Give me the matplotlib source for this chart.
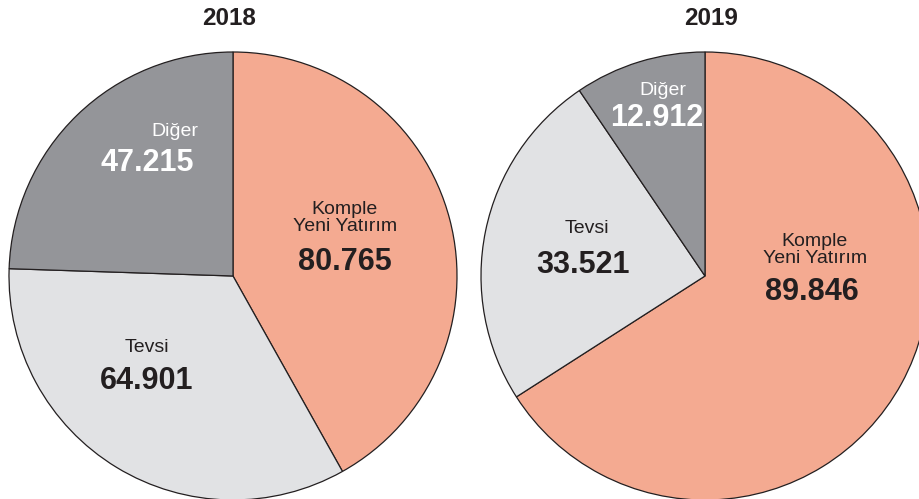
import matplotlib.pyplot as plt
from matplotlib import font_manager as fm

# avoid the "Narrow" cut of Liberation Sans being picked
regular_file = None
bold_file = None
for f in fm.fontManager.ttflist:
    if f.name == "Liberation Sans" and "Narrow" not in f.fname:
        if f.weight in ("bold", 700) and f.style == "normal":
            bold_file = f.fname
        elif f.weight in ("normal", "regular", 400) and f.style == "normal":
            regular_file = f.fname

if regular_file and bold_file:
    fp_reg = fm.FontProperties(fname=regular_file)
    fp_bold = fm.FontProperties(fname=bold_file)
else:
    fp_reg = fm.FontProperties(family="DejaVu Sans")
    fp_bold = fm.FontProperties(family="DejaVu Sans", weight="bold")

years = ["2018", "2019"]
categories = ["Komple\nYeni Yatırım", "Tevsi", "Diğer"]
values_2018 = [80765, 64901, 47215]
values_2019 = [89846, 33521, 12912]

colors = ["#F4AA91", "#E1E2E4", "#949599"]
text_colors = ["#231F20", "#231F20", "white"]
dark = "#231F20"


def fmt(v):
    return f"{v:,}".replace(",", ".")


W, H = 920, 499
fig = plt.figure(figsize=(W / 100, H / 100), dpi=100)
ax = fig.add_axes([0, 0, 1, 1])

# pie centers / radius in pixels (y from bottom)
centers = [(233, H - 276), (705, H - 276)]
radius = 224

# label positions (pixel, from top) for each pie: (name xy, number xy)
label_pos = [
    [((345, 218), (345, 262)), ((147, 348), (147, 381)), ((175, 131), (147, 163))],
    [((815, 250), (812, 292)), ((587, 228), (583, 265)), ((663, 90), (657, 118))],
]
title_x = [229, 711]

for i, vals in enumerate([values_2018, values_2019]):
    ax.pie(vals, colors=colors, startangle=90, counterclock=False,
           center=centers[i], radius=radius,
           wedgeprops=dict(edgecolor=dark, linewidth=0.9))
    ax.text(title_x[i], H - 18, years[i], ha="center", va="center",
            fontproperties=fp_bold, fontsize=17.5, color=dark)
    for j, cat in enumerate(categories):
        (nx, ny), (vx, vy) = label_pos[i][j]
        ax.text(nx, H - ny, cat, ha="center", va="center",
                fontproperties=fp_reg, fontsize=14,
                color=text_colors[j], linespacing=0.95)
        ax.text(vx, H - vy, fmt(vals[j]), ha="center", va="center",
                fontproperties=fp_bold, fontsize=22, color=text_colors[j])

ax.set_xlim(0, W)
ax.set_ylim(0, H)
ax.set_aspect("equal")
ax.axis("off")

fig.savefig("out.png", dpi=100)
